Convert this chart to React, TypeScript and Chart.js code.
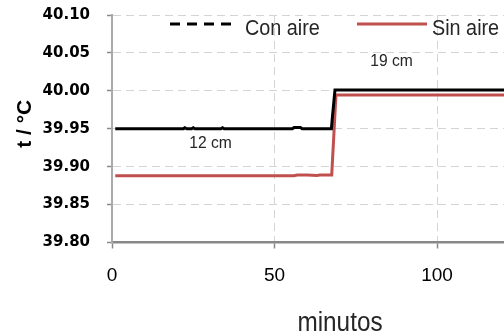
import React, { useEffect, useRef } from "react";
import { Chart, registerables } from "chart.js";

Chart.register(...registerables);

// Data (minutes, temperature °C)
const conAireMin = [1, 22, 22.4, 23, 24.5, 25, 25.5, 33.5, 34, 34.5, 55.5, 56, 58, 58.5, 67.5, 67.8, 68.6, 121];
const conAireT = [39.95, 39.95, 39.9513, 39.95, 39.95, 39.9513, 39.95, 39.95, 39.9513, 39.95, 39.95, 39.9515, 39.9515, 39.95, 39.95, 39.965, 40.001, 40.001];

const sinAireMin = [1, 56, 57, 60, 63, 64, 66, 67.6, 68.9, 121];
const sinAireT = [39.888, 39.888, 39.889, 39.889, 39.8885, 39.889, 39.889, 39.889, 39.9945, 39.9945];

const seriesNames = ["Con aire", "Sin aire"];
const seriesColors = ["#000000", "#c0504d"];
const xTicks = [0, 50, 100];
const yMin = 39.8;
const yMax = 40.1;
const yStep = 0.05;
const annotations = [
  { text: "12 cm", x: 30.3, y: 39.9245 },
  { text: "19 cm", x: 86, y: 40.033 },
];
const xTitle = "minutos";
const yTitle = "t / °C";

function drawText(
  ctx: CanvasRenderingContext2D,
  text: string,
  x: number,
  y: number,
  font: string,
  scaleX: number,
  align: CanvasTextAlign,
  color: string
) {
  ctx.save();
  ctx.font = font;
  ctx.fillStyle = color;
  ctx.textAlign = align;
  ctx.textBaseline = "alphabetic";
  ctx.translate(x, y);
  ctx.scale(scaleX, 1);
  ctx.fillText(text, 0, 0);
  ctx.restore();
}

const overlayPlugin = {
  id: "overlay",
  afterDraw(chart: any) {
    const ctx: CanvasRenderingContext2D = chart.ctx;
    const xs = chart.scales.x;
    const ys = chart.scales.y;
    const ca = chart.chartArea;

    // legend
    ctx.save();
    ctx.lineWidth = 3;
    ctx.strokeStyle = seriesColors[0];
    ctx.setLineDash([10, 7]);
    ctx.beginPath();
    ctx.moveTo(170, 24);
    ctx.lineTo(234, 24);
    ctx.stroke();
    ctx.setLineDash([]);
    ctx.strokeStyle = seriesColors[1];
    ctx.beginPath();
    ctx.moveTo(357, 24);
    ctx.lineTo(427, 24);
    ctx.stroke();
    ctx.restore();
    drawText(ctx, seriesNames[0], 245, 35, "22px 'Liberation Sans'", 0.9, "left", "#262626");
    drawText(ctx, seriesNames[1], 432, 35, "22px 'Liberation Sans'", 0.9, "left", "#262626");

    // annotations
    for (const a of annotations) {
      drawText(ctx, a.text, xs.getPixelForValue(a.x), ys.getPixelForValue(a.y), "17px 'Liberation Sans'", 0.92, "center", "#262626");
    }

    // axis titles
    drawText(ctx, xTitle, 340, 331, "27px 'Liberation Sans'", 0.9, "center", "#262626");
    ctx.save();
    ctx.translate(31, (ca.top + ca.bottom) / 2 - 5);
    ctx.rotate(-Math.PI / 2);
    ctx.font = "bold 21px 'Liberation Sans'";
    ctx.fillStyle = "#000";
    ctx.textAlign = "center";
    ctx.textBaseline = "alphabetic";
    ctx.fillText(yTitle, 0, 0);
    ctx.restore();
  },
};

export default function App() {
  const ref = useRef<HTMLCanvasElement>(null);
  useEffect(() => {
    if (!ref.current) return;
    const chart = new Chart(ref.current, {
      type: "line",
      data: {
        datasets: [
          {
            label: seriesNames[0],
            data: conAireMin.map((m, i) => ({ x: m, y: conAireT[i] })),
            borderColor: seriesColors[0],
            borderWidth: 3,
            pointRadius: 0,
            tension: 0,
          },
          {
            label: seriesNames[1],
            data: sinAireMin.map((m, i) => ({ x: m, y: sinAireT[i] })),
            borderColor: seriesColors[1],
            borderWidth: 3,
            pointRadius: 0,
            tension: 0,
          },
        ],
      },
      options: {
        animation: false,
        responsive: true,
        maintainAspectRatio: false,
        layout: { padding: { top: 15, right: 0, left: 0, bottom: 0 } },
        plugins: { legend: { display: false }, tooltip: { enabled: false } },
        scales: {
          x: {
            type: "linear",
            min: 0,
            max: 120.6,
            afterFit: (s: any) => {
              s.height = 92.5;
              s.paddingLeft = 0;
              s.paddingRight = 0;
            },
            afterBuildTicks: (s: any) => {
              s.ticks = xTicks.map((v) => ({ value: v }));
            },
            ticks: {
              padding: 16,
              color: "#000",
              font: { family: "'Liberation Sans'", size: 19 },
              maxRotation: 0,
            },
            grid: {
              color: (c: any) => (c.tick && c.tick.value === 0 ? "rgba(0,0,0,0)" : "#d4d4d4"),
              tickLength: 6,
              tickColor: "#888",
              tickWidth: 1.5,
              tickBorderDash: [],
            } as any,
            border: { display: true, color: "#888", width: 2.5, dash: [8, 5] },
          },
          y: {
            type: "linear",
            min: yMin,
            max: yMax,
            afterFit: (s: any) => {
              s.width = 112;
              s.paddingTop = 0;
              s.paddingBottom = 0;
            },
            ticks: {
              stepSize: yStep,
              padding: 17,
              color: "#000",
              font: { family: "'DejaVu Sans'", size: 15, weight: "bold" },
              callback: (v: any) => Number(v).toFixed(2),
            },
            grid: {
              color: (c: any) => (c.tick && Math.abs(c.tick.value - yMin) < 1e-6 ? "rgba(0,0,0,0)" : "#d4d4d4"),
              tickLength: 5,
              tickColor: "#888",
              tickWidth: 1.5,
              tickBorderDash: [],
            } as any,
            border: { display: true, color: "#aaa", width: 2, dash: [8, 5] },
          },
        },
      } as any,
      plugins: [overlayPlugin],
    });
    return () => chart.destroy();
  }, []);
  return (
    <div style={{ position: "absolute", left: 0, top: 0, width: 504, height: 335, background: "#fff" }}>
      <canvas ref={ref} />
    </div>
  );
}
